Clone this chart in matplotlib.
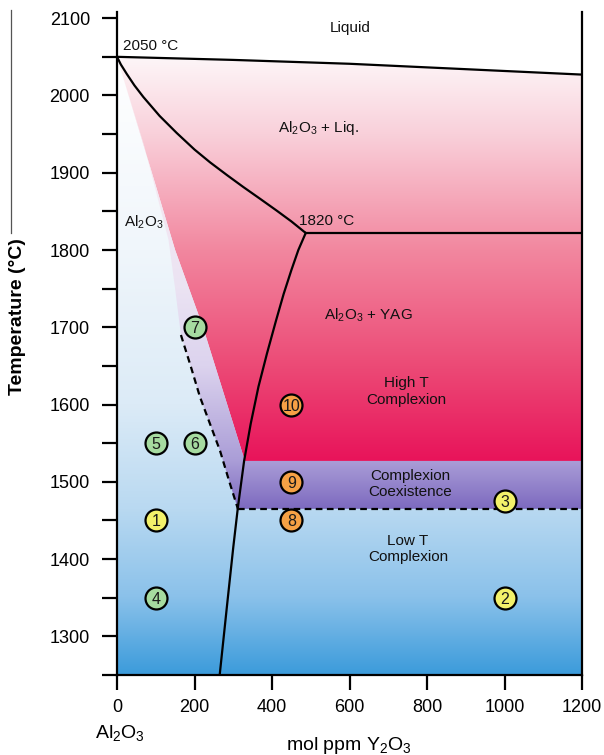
import numpy as np
import matplotlib
matplotlib.use("Agg")
import matplotlib.pyplot as plt
from matplotlib.patches import Polygon
from matplotlib.lines import Line2D
from matplotlib.colors import to_rgb

plt.rcParams['font.family'] = ['Liberation Sans', 'DejaVu Sans']
plt.rcParams['mathtext.fontset'] = 'custom'
plt.rcParams['mathtext.rm'] = 'Liberation Sans'
plt.rcParams['mathtext.it'] = 'Liberation Sans:italic'
plt.rcParams['mathtext.bf'] = 'Liberation Sans:bold'

# ---------------- data ----------------
# liquidus (top line)
liq_x = [0, 300, 600, 900, 1200]
liq_T = [2050, 2046, 2041, 2034, 2027]
# Al2O3 + Liq. lower boundary (curve from 2050 to eutectic)
alliq_x = [0, 10, 25, 45, 68, 110, 154, 200, 240, 285, 326, 370, 412, 450, 487]
alliq_T = [2050, 2040, 2028, 2013, 1998, 1973.5, 1951.5, 1930, 1913.5, 1896.5,
           1881.5, 1866, 1851, 1837, 1822]
# eutectic horizontal
eut_x = [487, 1200]
eut_T = [1822, 1822]
# YAG solvus
yag_x = [265, 285, 300, 312, 328, 345, 365, 387, 410, 430, 450, 468, 487]
yag_T = [1250, 1345, 1415, 1467, 1527, 1575, 1623, 1666, 1708, 1743, 1774, 1800, 1822]
# left edge of pink (Al2O3 + YAG) region
pink_x = [0, 150, 222, 330]
pink_T = [2050, 1800, 1700, 1527]
# dashed complexion boundary
dash_x = [165, 190, 214, 240, 266, 290, 312]
dash_T = [1690, 1650, 1610, 1575, 1540, 1500, 1465]
# upper fade edge of lavender wedge
wedge_x = [0, 70, 133, 150, 165]
wedge_T = [2050, 1935, 1813, 1750, 1690]
# complexion band limits
band_low = 1465
band_high = 1527

# sample points
pt_x = [100, 1000, 1000, 100, 100, 200, 200, 450, 450, 450]
pt_T = [1450, 1350, 1475, 1350, 1550, 1550, 1700, 1450, 1500, 1600]
pt_lbl = ['1', '2', '3', '4', '5', '6', '7', '8', '9', '10']
pt_grp = ['y', 'y', 'y', 'g', 'g', 'g', 'g', 'o', 'o', 'o']

xticks = [0, 200, 400, 600, 800, 1000, 1200]
yticks = [1300, 1400, 1500, 1600, 1700, 1800, 1900, 2000, 2100]

# ---------------- figure ----------------
fig = plt.figure(figsize=(6.04, 7.55), dpi=100)
ax = fig.add_axes([117/604, 1-675/755, 465/604, 663/755])
XL = (0, 1200)
YL = (1250, 2108)
ax.set_xlim(*XL)
ax.set_ylim(*YL)


def gradient(stops, poly_xy, z):
    Ts = np.linspace(YL[0], YL[1], 800)
    st_T = np.array([s[0] for s in stops])
    cols = np.array([to_rgb(s[1]) for s in stops])
    order = np.argsort(st_T)
    st_T = st_T[order]
    cols = cols[order]
    img = np.zeros((len(Ts), 1, 3))
    for c in range(3):
        img[:, 0, c] = np.interp(Ts, st_T, cols[:, c])
    poly = Polygon(poly_xy, closed=True, facecolor='none', edgecolor='none',
                   transform=ax.transData)
    ax.add_patch(poly)
    im = ax.imshow(img, extent=[XL[0], XL[1], YL[0], YL[1]], origin='lower',
                   aspect='auto', zorder=z, interpolation='bilinear')
    im.set_clip_path(poly)


# blue background below liquidus
blue_poly = [(0, YL[0])] + list(zip(liq_x, liq_T)) + [(1200, YL[0])]
gradient([(2050, '#ffffff'), (1800, '#f0f6fb'), (1600, '#dcebf7'),
          (1465, '#b9d9f1'), (1350, '#8ac1ea'), (1250, '#3b9bdb')],
         blue_poly, 1)

# pink region
pink_poly = list(zip(liq_x, liq_T)) + [(1200, band_high), (330, band_high)] + \
    list(zip(pink_x[::-1], pink_T[::-1]))
gradient([(2050, '#fdf6f8'), (1950, '#f9d0da'), (1800, '#f2879f'),
          (1650, '#ec4a76'), (1527, '#e8135a')], pink_poly, 2)

# lavender wedge + coexistence band
purp_poly = list(zip(pink_x, pink_T)) + [(1200, band_high), (1200, band_low)] + \
    list(zip(dash_x[::-1], dash_T[::-1])) + list(zip(wedge_x[::-1], wedge_T[::-1]))
gradient([(2050, '#fdf4f7'), (1900, '#f6e9f1'), (1750, '#ebe3f3'),
          (1650, '#dcd3ee'), (1527, '#aa9dd7'), (1465, '#7d6abf')],
         purp_poly, 2)

# lines
lw = 1.6
ax.plot(liq_x, liq_T, color='black', lw=lw, zorder=4)
ax.plot(alliq_x, alliq_T, color='black', lw=lw, zorder=4)
ax.plot(eut_x, eut_T, color='black', lw=lw, zorder=4)
ax.plot(yag_x, yag_T, color='black', lw=lw, zorder=4)
ax.plot(dash_x, dash_T, color='black', lw=lw, ls=(0, (3, 2)), zorder=4)
ax.plot([dash_x[-1], 1200], [band_low, band_low], color='black', lw=lw,
        ls=(0, (3, 2)), zorder=4)

# points
fills = {'y': '#f3f16a', 'g': '#a6dba0', 'o': '#f6a145'}
for x, T, l, g in zip(pt_x, pt_T, pt_lbl, pt_grp):
    ax.scatter([x], [T], s=250, facecolor=fills[g], edgecolor='black',
               linewidth=1.6, zorder=6)
    ax.text(x, T, l, ha='center', va='center_baseline', fontsize=11.5,
            color='#1a1a1a', zorder=7)

# labels inside
AL = r'Al$_\mathregular{2}$O$_\mathregular{3}$'
tk = dict(fontsize=11, color='#111111', zorder=7)
ax.text(601, 2087, 'Liquid', ha='center', va='center', **tk)
ax.text(15, 2055, '2050 °C', ha='left', va='bottom', **tk)
ax.text(519, 1958, AL + ' + Liq.', ha='center', va='center', **tk)
ax.text(540, 1828, '1820 °C', ha='center', va='bottom', **tk)
ax.text(70, 1836, AL, ha='center', va='center', **tk)
ax.text(648, 1715, AL + ' + YAG', ha='center', va='center', **tk)
ax.text(746, 1617, 'High T\nComplexion', ha='center', va='center',
        linespacing=1.2, **tk)
ax.text(756, 1497, 'Complexion\nCoexistence', ha='center', va='center',
        linespacing=1.2, **tk)
ax.text(751, 1413, 'Low T\nComplexion', ha='center', va='center',
        linespacing=1.2, **tk)

# axes styling
for s in ['left', 'right', 'bottom']:
    ax.spines[s].set_linewidth(1.6)
    ax.spines[s].set_zorder(8)
ax.spines['top'].set_visible(False)
ax.set_xticks(xticks)
ax.set_yticks(yticks)
ax.set_yticks(np.arange(1250, 2101, 100), minor=True)
ax.tick_params(axis='both', which='both', direction='out', width=1.6,
               labelsize=13, colors='black')
ax.tick_params(axis='y', which='both', length=10.5, pad=9)
ax.tick_params(axis='x', which='major', length=11, pad=6)
ax.tick_params(axis='y', which='minor', labelleft=False)

fig.text(18/604, 1-317/755, 'Temperature (°C)', rotation=90, ha='center',
         va='center', fontsize=14, fontweight='bold')

fig.text(349/604, 1-745/755, r'mol ppm Y$_\mathregular{2}$O$_\mathregular{3}$',
         ha='center', va='center', fontsize=14)
fig.text(120/604, 1-733/755, AL, ha='center', va='center', fontsize=14)

# thin vertical stroke at far left
fig.add_artist(Line2D([11/604, 11/604], [1-10/755, 1-233/755],
                      transform=fig.transFigure, color='#555555', lw=0.9))

fig.savefig('out.png', dpi=100)
